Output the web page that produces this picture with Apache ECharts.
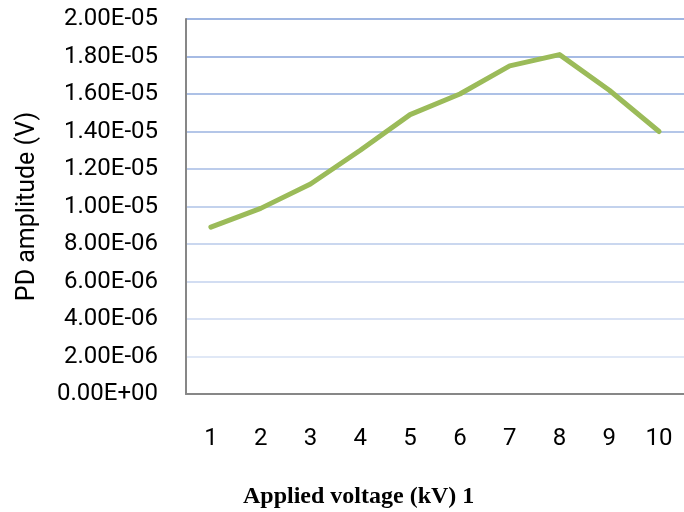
<!DOCTYPE html>
<html>
<head>
<meta charset="utf-8">
<script src="https://cdn.jsdelivr.net/npm/echarts@6/dist/echarts.min.js"></script>
<style>
  html, body { margin: 0; padding: 0; background: #fff; }
  #chart { width: 684px; height: 512px; }
</style>
</head>
<body>
<div id="chart"></div>
<script>
// Applied voltage steps (kV)
const voltages = ['1', '2', '3', '4', '5', '6', '7', '8', '9', '10'];
// Measured partial-discharge amplitude (V)
const pdAmplitude = [8.9e-6, 9.9e-6, 1.12e-5, 1.3e-5, 1.49e-5, 1.6e-5, 1.75e-5, 1.81e-5, 1.62e-5, 1.4e-5];

const yMin = 0;
const yMax = 2e-5;
const yStep = 2e-6;

const chart = echarts.init(document.getElementById('chart'));
chart.setOption({
  animation: false,
  grid: { left: 186, right: -8, top: 19, bottom: 118, containLabel: false },
  xAxis: {
    type: 'category',
    data: voltages,
    boundaryGap: true,
    axisLine: { show: true, lineStyle: { color: '#878787', width: 2 } },
    axisTick: { show: false },
    axisLabel: { color: '#000', fontSize: 24, fontFamily: 'Roboto', margin: 33 },
    splitLine: { show: false }
  },
  yAxis: {
    type: 'value',
    min: yMin,
    max: yMax,
    interval: yStep,
    name: 'PD amplitude (V)',
    nameLocation: 'middle',
    nameRotate: 90,
    nameGap: 146,
    nameTextStyle: { color: '#000', fontSize: 25, fontFamily: 'Roboto' },
    axisLine: { show: true, lineStyle: { color: '#878787', width: 2 } },
    axisTick: { show: false },
    axisLabel: {
      color: '#000',
      fontSize: 24,
      fontFamily: 'Roboto',
      margin: 28,
      formatter: v => {
        const s = v.toExponential(2).toUpperCase();
        return s.replace(/E([+-])(\d)$/, 'E$10$2');
      }
    },
    splitLine: {
      show: true,
      lineStyle: {
        width: 2,
        color: ['#e4eaf6', '#e0e8f6', '#d9e2f4', '#d2ddf2', '#cad7ef', '#c3d2ed', '#bccceb', '#b4c6e8', '#adc1e6', '#a6bbe4', '#9fb6e2']
      }
    }
  },
  series: [{
    type: 'line',
    data: pdAmplitude,
    symbol: 'none',
    lineStyle: { color: '#9bbb59', width: 5, cap: 'round', join: 'round' }
  }],
  graphic: [{
    type: 'text',
    left: 243,
    top: 485,
    style: {
      text: 'Applied voltage (kV) 1',
      font: 'bold 24px "Liberation Serif", "Times New Roman", serif',
      fill: '#000'
    }
  }]
});
</script>
</body>
</html>
